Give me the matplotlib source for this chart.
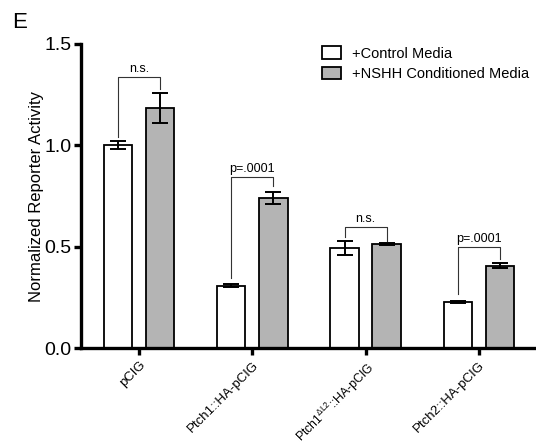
import numpy as np
import matplotlib.pyplot as plt

plt.rcParams['font.family'] = ['Liberation Sans', 'DejaVu Sans']
plt.rcParams['mathtext.fontset'] = 'custom'
plt.rcParams['mathtext.rm'] = 'Liberation Sans'
plt.rcParams['mathtext.it'] = 'Liberation Sans'

# --- data ---
categories = ['pCIG', 'Ptch1::HA-pCIG', r'Ptch1$^{\Delta L2}$::HA-pCIG', 'Ptch2::HA-pCIG']
control_mean = [1.00, 0.307, 0.495, 0.228]
control_err = [0.02, 0.007, 0.034, 0.005]
nshh_mean = [1.185, 0.740, 0.513, 0.405]
nshh_err = [0.075, 0.028, 0.005, 0.012]

# significance brackets: label, top, left leg end, right leg end
sig_labels = ['n.s.', 'p=.0001', 'n.s.', 'p=.0001']
sig_top = [1.337, 0.845, 0.598, 0.50]
sig_left = [1.04, 0.345, 0.55, 0.266]
sig_right = [1.277, 0.80, 0.529, 0.44]

x = np.arange(len(categories))
width = 0.25
off = 0.186

fig = plt.figure(figsize=(5.36, 4.48), dpi=100)
ax = fig.add_axes([0.151, 0.2232, 0.849, 0.6786])

ekw = dict(elinewidth=1.4, capthick=1.4, ecolor='black')
ax.bar(x - off, control_mean, width, yerr=control_err, capsize=5.5, color='white',
       edgecolor='black', linewidth=1.3, error_kw=ekw, label='+Control Media', zorder=2)
ax.bar(x + off, nshh_mean, width, yerr=nshh_err, capsize=5.5, color='#b4b4b4',
       edgecolor='black', linewidth=1.3, error_kw=ekw, label='+NSHH Conditioned Media', zorder=2)

for i in range(len(categories)):
    xl, xr = x[i] - off, x[i] + off
    ax.plot([xl, xl, xr, xr], [sig_left[i], sig_top[i], sig_top[i], sig_right[i]],
            color='#333333', linewidth=0.8, zorder=3)
    ax.text(x[i], sig_top[i] + 0.01, sig_labels[i], ha='center', va='bottom', fontsize=9)

ax.set_xlim(-0.512, 3.504)
ax.set_ylim(0, 1.5)
ax.set_yticks([0.0, 0.5, 1.0, 1.5])
ax.set_yticklabels(['0.0', '0.5', '1.0', '1.5'], fontsize=14)
ax.set_xticks(x)
ax.set_xticklabels(categories, rotation=45, ha='right', rotation_mode='anchor', fontsize=9.5)
ax.get_xticklabels()[2].set_fontsize(8.8)
ax.set_ylabel('Normalized Reporter Activity', fontsize=12, labelpad=0)

for s in ['top', 'right']:
    ax.spines[s].set_visible(False)
for s in ['left', 'bottom']:
    ax.spines[s].set_linewidth(2.4)
ax.tick_params(axis='both', width=2.4, length=5, direction='out')
ax.tick_params(axis='y', pad=2)
ax.tick_params(axis='x', pad=3)

ax.legend(loc='upper left', bbox_to_anchor=(0.50, 1.035), frameon=False, fontsize=10.5,
          handlelength=1.3, handleheight=0.9, labelspacing=0.45)

fig.text(0.022, 1 - 28 / 448, 'E', fontsize=16, va='baseline', ha='left')

fig.savefig('out.png', dpi=100)
